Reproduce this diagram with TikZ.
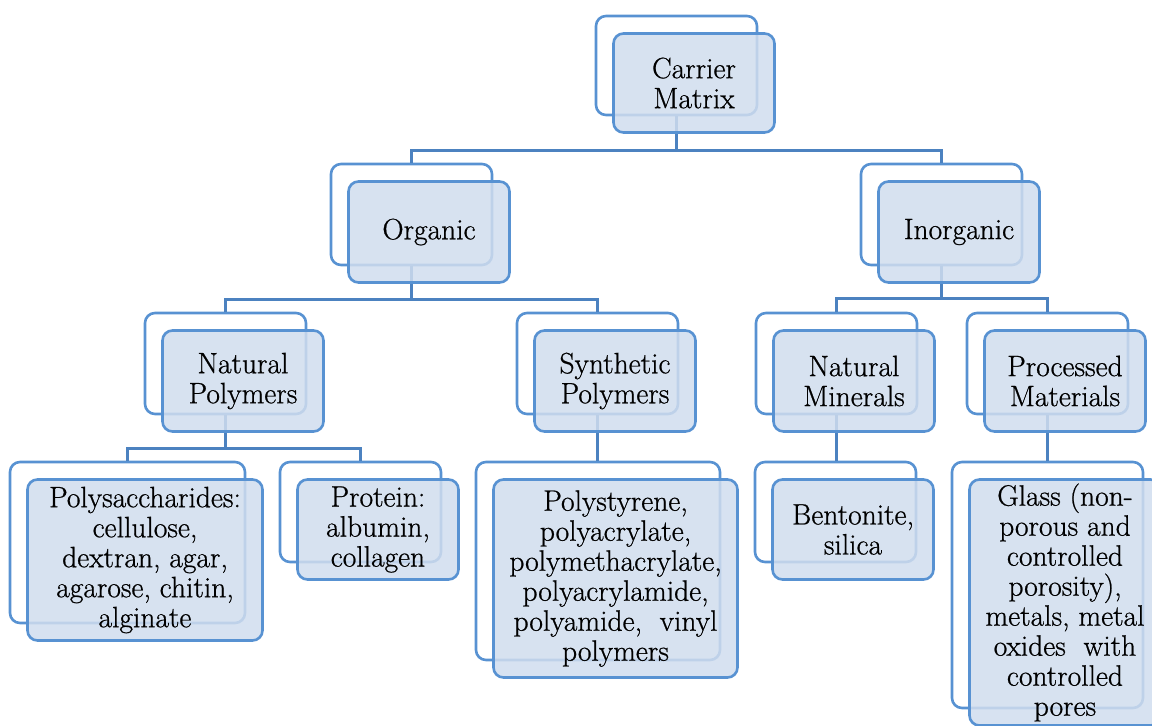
\documentclass[tikz,border=0pt]{standalone}
\usepackage{fontspec}
\newfontfamily\boxfont{Latin Modern Roman}[FakeBold=0.7]
\definecolor{boxline}{RGB}{88,146,210}
\definecolor{linkline}{RGB}{76,130,192}
\definecolor{boxfill}{RGB}{208,221,238}

\begin{document}
\begin{tikzpicture}[x=1pt, y=-1pt,
    back/.style={rectangle, draw=boxline, line width=2.6pt, fill=white, rounded corners=10pt},
    front/.style={rectangle, draw=boxline, line width=2.6pt, fill=boxfill, fill opacity=0.85, text opacity=1,
        rounded corners=10pt, align=center, inner sep=2pt, font=\boxfont\fontsize{29.5}{30}\selectfont},
    std/.style={minimum width=161pt, minimum height=101pt},
    line/.style={draw=linkline, line width=2.6pt}]
    \useasboundingbox (0,0) rectangle (1152,726);

    % back boxes
    \node [back, std, minimum height=99pt] (carrierB) at (676.5,65.5) {};
    \node [back, std] (organicB) at (411.5,214.5) {};
    \node [back, std] (inorganicB) at (941.5,214.5) {};
    \node [back, std] (natpolB) at (225.5,363.5) {};
    \node [back, std] (synpolB) at (597.5,363.5) {};
    \node [back, std] (natminB) at (836.5,363.5) {};
    \node [back, std] (procB) at (1047.5,363.5) {};
    \node [back, minimum width=235pt, minimum height=161pt] (polysB) at (127.5,542.5) {};
    \node [back, std, minimum height=100pt] (proteinB) at (360.5,512) {};
    \node [back, minimum width=244pt, minimum height=198pt] (polystB) at (598,561) {};
    \node [back, std, minimum height=100pt] (bentB) at (835.5,512) {};
    \node [back, minimum width=191pt, minimum height=246pt] (glassB) at (1047.5,585) {};

    % connectors
    \path [line] (carrierB.south) -- ++(0,34) -| (organicB.north);
    \path [line] (carrierB.south) -- ++(0,34) -| (inorganicB.north);
    \path [line] (organicB.south) -- ++(0,33) -| (natpolB.north);
    \path [line] (organicB.south) -- ++(0,33) -| (synpolB.north);
    \path [line] (inorganicB.south) -- ++(0,32) -| (natminB.north);
    \path [line] (inorganicB.south) -- ++(0,32) -| (procB.north);
    \path [line] (natpolB.south) -- ++(0,33) -| (polysB.north);
    \path [line] (natpolB.south) -- ++(0,33) -| (proteinB.north);
    \path [line] (synpolB.south) -- (synpolB.south |- polystB.north);
    \path [line] (natminB.south) -- (natminB.south |- bentB.north);
    \path [line] (procB.south) -- (procB.south |- glassB.north);

    % front boxes
    \node [front, std, minimum height=99pt] (carrier) at ([shift={(17.5,17.5)}]carrierB) {Carrier\\Matrix};
    \node [front, std] (organic) at ([shift={(17.5,17.5)}]organicB) {Organic};
    \node [front, std] (inorganic) at ([shift={(17.5,17.5)}]inorganicB) {Inorganic};
    \node [front, std] (natpol) at ([shift={(17.5,17.5)}]natpolB) {Natural\\Polymers};
    \node [front, std] (synpol) at ([shift={(17.5,17.5)}]synpolB) {Synthetic\\Polymers};
    \node [front, std] (natmin) at ([shift={(17.5,17.5)}]natminB) {Natural\\Minerals};
    \node [front, std] (proc) at ([shift={(17.5,17.5)}]procB) {Processed\\Materials};
    \node [front, minimum width=235pt, minimum height=161pt] (polys) at ([shift={(17.5,17.5)}]polysB)
        {Polysaccharides:\\cellulose,\\dextran, agar,\\agarose, chitin,\\alginate};
    \node [front, std, minimum height=100pt] (protein) at ([shift={(17.5,17.5)}]proteinB) {Protein:\\albumin,\\collagen};
    \node [front, minimum width=244pt, minimum height=198pt] (polyst) at ([shift={(17.5,17.5)}]polystB)
        {Polystyrene,\\polyacrylate,\\polymethacrylate,\\polyacrylamide,\\polyamide,\ \ vinyl\\polymers};
    \node [front, std, minimum height=100pt] (bent) at ([shift={(17.5,17.5)}]bentB) {Bentonite,\\silica};
    \node [front, minimum width=191pt, minimum height=246pt] (glass) at ([shift={(17.5,17.5)}]glassB)
        {Glass (non-\\porous and\\controlled\\porosity),\\metals, metal\\oxides\ \ with\\controlled\\pores};
\end{tikzpicture}
\end{document}
